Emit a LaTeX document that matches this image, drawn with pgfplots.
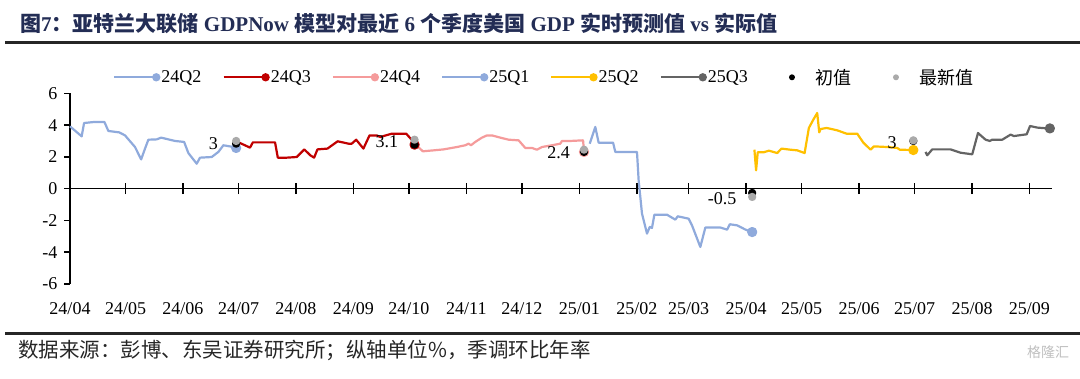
\documentclass[border=0pt]{standalone}
\usepackage{fontspec}
\setmainfont{Liberation Serif}
\newfontfamily\cjk{Noto Sans CJK SC}
\usepackage{pgfplots}
\pgfplotsset{compat=1.18}
\definecolor{cA}{RGB}{143,170,220}
\definecolor{cB}{RGB}{192,0,0}
\definecolor{cC}{RGB}{245,155,155}
\definecolor{cE}{RGB}{255,192,0}
\definecolor{cF}{RGB}{100,100,100}
\definecolor{cG}{RGB}{170,170,170}
\definecolor{titlec}{RGB}{35,45,85}
\pgfplotsset{
  serleg/.style={legend image code/.code={\draw[##1, mark=none, line width=2.2bp] (0bp,0bp) -- (42bp,0bp); \fill[##1, mark=none, draw=none] (42bp,0bp) circle (4.2bp);}},
  dotleg/.style={legend image code/.code={\path[draw=none, fill=none] (0bp,0bp) -- (46bp,0bp); \fill[draw=none, fill=#1] (23bp,0bp) circle (3bp);}},
}
\begin{document}
\begin{tikzpicture}
\path[use as bounding box] (0bp,0bp) rectangle (1080bp,379bp);
\node[anchor=west, text=titlec, inner sep=0pt] at (20bp,355.5bp)
 {\bfseries\fontsize{21bp}{25bp}\selectfont {\cjk 图}7{\cjk ：亚特兰大联储} GDPNow {\cjk 模型对最近} 6 {\cjk 个季度美国} GDP {\cjk 实时预测值} vs {\cjk 实际值}};
\draw[line width=2.5bp, black!85] (5bp,336.3bp) -- (1080bp,336.3bp);
\draw[line width=2.5bp, black!85] (5bp,45.7bp) -- (1080bp,45.7bp);
\node[anchor=west, inner sep=0pt, text=black!85] at (18bp,29bp)
 {\fontsize{20.5bp}{23bp}\selectfont\cjk 数据来源：彭博、东吴证券研究所；纵轴单位\%，季调环比年率};
\node[anchor=center, inner sep=0pt, text=black!25] at (1048bp,27bp)
 {\fontsize{14bp}{16bp}\selectfont\cjk 格隆汇};
\begin{axis}[
  at={(70bp,95bp)}, anchor=south west,
  scale only axis, width=981.7bp, height=190.7bp,
  xmin=0, xmax=530, ymin=-6, ymax=6,
  enlargelimits=false, clip=false,
  axis x line=middle, axis y line=left,
  axis line style={-, line width=1.5bp, black},
  hide obscured x ticks=false, hide obscured y ticks=false,
  xtick={0,30,61,91,122,153,183,214,244,275,306,334,365,395,426,456,487,518},
  xticklabels={24/04,24/05,24/06,24/07,24/08,24/09,24/10,24/11,24/12,25/01,25/02,25/03,25/04,25/05,25/06,25/07,25/08,25/09},
  ytick={-6,-4,-2,0,2,4,6},
  yticklabels={-6,-4,-2,0,2,4,6},
  xtick align=center, ytick align=outside,
  major tick length=6bp,
  xtick style={line width=1.5bp, black, /pgfplots/major tick length=11bp},
  ytick style={line width=1.5bp, black},
  xticklabel style={anchor=base, yshift=-122.7bp, font=\fontsize{18bp}{21bp}\selectfont},
  yticklabel style={xshift=-3bp, font=\fontsize{18bp}{21bp}\selectfont},
  legend columns=8,
  legend style={at={(0.0438,1.0839)}, anchor=west, draw=none, fill=none,
    inner sep=0pt, font=\fontsize{18bp}{21bp}\selectfont,
    nodes={inner sep=1bp},
    /tikz/every even column/.append style={column sep=20bp}},
  every axis plot/.append style={line width=2.2bp, line join=round},
]
\addplot[cA, mark=*, mark size=4bp, mark indices={24}, serleg] coordinates {
(0,3.92) (6.3,3.29) (7.6,4.13) (12.6,4.19) (18.6,4.19) (20.7,3.63) (26.6,3.54) (29.7,3.35)
(35.1,2.62) (38.4,1.84) (40.5,2.52) (42.3,3.08) (46.8,3.10) (49.2,3.21) (56.7,3.00) (61.6,2.94)
(63.9,2.24) (68.4,1.57) (70.2,1.95) (76.5,1.99) (80.1,2.31) (82.8,2.73) (88.2,2.62) (89.7,2.56)};
\addlegendentry{24Q2}
\addplot[cB, mark=*, mark size=4bp, mark indices={25}, serleg] coordinates {
(90,2.89) (91.8,2.87) (97.2,2.58) (98.7,2.91) (110.7,2.91) (112.2,1.95) (117,1.95) (122.4,1.99)
(126.5,2.47) (129.7,2.10) (131.8,1.95) (133.6,2.47) (139,2.52) (144.5,2.98) (150.4,2.83) (152.1,2.83)
(154.5,3.08) (158.4,2.52) (161.7,3.35) (165.6,3.35) (167.5,3.25) (173.8,3.46) (181.5,3.46) (185.5,2.94) (186,2.77)};
\addlegendentry{24Q3}
\addplot[cC, mark=*, mark size=4bp, mark indices={25}, serleg] coordinates {
(188,2.62) (190.5,2.35) (196.3,2.41) (201.7,2.47) (208.9,2.62) (213.4,2.73) (215.2,2.83) (216.5,2.73)
(218.8,2.94) (222.4,3.21) (225.1,3.35) (227.8,3.35) (232.3,3.21) (236.8,3.08) (242.2,3.04) (245.8,2.56)
(249.4,2.56) (252.1,2.45) (254.8,2.62) (260.2,2.73) (264.7,2.83) (265.6,3.00) (270.1,3.00) (277,3.04) (277.5,2.31)};
\addlegendentry{24Q4}
\addplot[cA, mark=*, mark size=4bp, mark indices={25}, serleg] coordinates {
(280.6,2.83) (283.6,3.88) (285.4,2.89) (293.2,2.89) (294.4,2.31) (306.1,2.31) (307,0.52) (308.8,-1.57)
(311.5,-2.83) (313,-2.41) (314.2,-2.47) (315.5,-1.64) (322.3,-1.64) (326.8,-1.95) (328.1,-1.74) (334,-1.89)
(335.8,-2.31) (340.3,-3.67) (343,-2.45) (351.2,-2.45) (354.8,-2.58) (356.2,-2.24) (360.2,-2.31) (364.7,-2.58) (368.3,-2.73)};
\addlegendentry{25Q1}
\addplot[cE, mark=*, mark size=4bp, mark indices={26}, serleg] coordinates {
(369.5,2.45) (370.4,1.15) (371.3,2.29) (374.6,2.29) (377.3,2.39) (381.8,2.24) (384.1,2.52) (389,2.45)
(392.6,2.41) (396.6,2.24) (398.9,3.82) (401.3,4.34) (403.4,4.76) (404.5,3.54) (405.2,3.75) (408.5,3.82)
(414.2,3.67) (419.2,3.46) (425,3.46) (428.2,2.91) (432.2,2.45) (434,2.66) (441.2,2.62) (446.6,2.56) (448,2.45) (455.3,2.43)};
\addlegendentry{25Q2}
\addplot[cF, mark=*, mark size=4bp, mark indices={18}, serleg] coordinates {
(461.9,2.31) (462.8,2.10) (465.5,2.47) (475.4,2.47) (480.8,2.26) (487.1,2.16) (490.2,3.50) (494.3,3.08)
(496.6,3.00) (497.9,3.08) (503.3,3.08) (507.8,3.40) (509.6,3.31) (516.5,3.42) (518.3,3.94) (522.3,3.84) (527.7,3.79) (529,3.79)};
\addlegendentry{25Q3}
\addplot[only marks, black, mark=*, mark size=3bp, dotleg=black] coordinates {
(89.7,2.83) (186,2.77) (277.5,2.31) (368.3,-0.27) (455.3,3.0)};
\addlegendentry{\cjk 初值}
\addplot[only marks, cG, mark=*, mark size=3bp, dotleg=cG] coordinates {
(89.7,3.0) (186,3.08) (277.5,2.45) (368.3,-0.52) (455.3,3.04)};
\addlegendentry{\cjk 最新值}
\node[font=\fontsize{18bp}{21bp}\selectfont] at (axis cs:77.4,2.83) {3};
\node[font=\fontsize{18bp}{21bp}\selectfont] at (axis cs:171.1,2.93) {3.1};
\node[font=\fontsize{18bp}{21bp}\selectfont] at (axis cs:263.8,2.24) {2.4};
\node[font=\fontsize{18bp}{21bp}\selectfont] at (axis cs:352.1,-0.63) {-0.5};
\node[font=\fontsize{18bp}{21bp}\selectfont] at (axis cs:443.9,2.87) {3};
\end{axis}
\end{tikzpicture}
\end{document}
